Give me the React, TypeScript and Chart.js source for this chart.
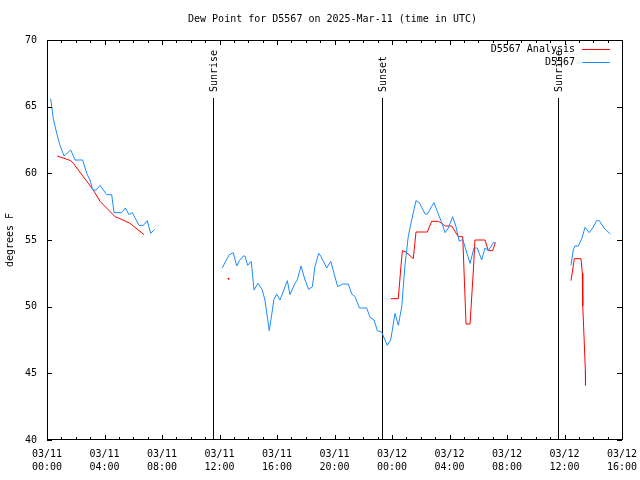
import { useEffect, useRef } from "react";
import { Chart, registerables } from "chart.js";

Chart.register(...registerables);

const chartTitle = "Dew Point for D5567 on 2025-Mar-11 (time in UTC)";
const yAxisLabel = "degrees F";
const xTickDates = ["03/11", "03/11", "03/11", "03/11", "03/11", "03/11", "03/12", "03/12", "03/12", "03/12", "03/12"];
const xTickTimes = ["00:00", "04:00", "08:00", "12:00", "16:00", "20:00", "00:00", "04:00", "08:00", "12:00", "16:00"];

const analysisLabel = "D5567 Analysis";
const obsLabel = "D5567";

const eventNames = ["Sunrise", "Sunset", "Sunrise"];
const eventHours = [11.55, 23.3, 35.55];

// hours since 03/11 00:00 UTC
const obsHours = [
  0.257, 0.327, 0.438, 0.675, 0.904, 1.183, 1.649, 1.948, 2.483, 2.762, 2.991, 3.179, 3.409, 3.687,
  4.153, 4.501, 4.661, 5.197, 5.447, 5.704, 5.934, 6.4, 6.699, 6.977, 7.214, 7.492,
  10,
  12.19, 12.45, 12.68, 12.96, 13.2, 13.38, 13.66, 13.77, 13.96, 14.21, 14.4, 14.68, 14.96, 15.16,
  15.46, 15.63, 15.79, 15.98, 16.21, 16.72, 16.9, 17.25, 17.41, 17.67, 17.95, 18.2, 18.46, 18.64,
  18.9, 19.04, 19.46, 19.74, 20.22, 20.57, 20.96, 21.2, 21.43, 21.73, 22.24, 22.47, 22.75, 22.98,
  23.28, 23.67, 23.91, 24.21, 24.44, 24.68, 24.9, 25.13, 25.37, 25.67, 25.9, 26.3, 26.45, 26.92,
  27.22, 27.46, 27.69, 27.92, 28.22, 28.45, 28.68, 28.92, 29.43, 29.7, 29.93, 30.24, 30.47, 30.7,
  31.05, 31.19,
  34,
  36.45, 36.61, 36.73, 36.96, 37.2, 37.43, 37.72, 37.96, 38.24, 38.42, 38.75, 39.19,
];
const obsValues = [
  65.6, 65.05, 64.1, 63.0, 62.1, 61.3, 61.75, 61.0, 61.0, 60.0, 59.5, 58.75, 58.75, 59.1,
  58.4, 58.4, 57.05, 57.05, 57.4, 56.9, 57.05, 56.1, 56.1, 56.45, 55.5, 55.8,
  null,
  52.9, 53.45, 53.9, 54.05, 53.05, 53.45, 53.8, 53.8, 53.1, 53.4, 51.25, 51.75, 51.3, 50.5,
  48.2, 49.4, 50.55, 50.95, 50.5, 51.95, 50.9, 51.75, 52.0, 53.05, 52.0, 51.3, 51.5, 53.0,
  54.0, 53.8, 52.9, 53.4, 51.5, 51.7, 51.7, 50.95, 50.75, 49.9, 49.9, 49.2, 49.0, 48.2,
  48.1, 47.1, 47.5, 49.5, 48.6, 50.0, 53.1, 55.25, 56.5, 57.95, 57.8, 56.95, 56.95, 57.8,
  56.95, 56.3, 55.55, 55.9, 56.75, 56.0, 54.9, 55.05, 53.25, 54.4, 54.4, 53.5, 54.4, 54.2,
  54.8, 54.8,
  null,
  53.1, 54.25, 54.55, 54.55, 55.1, 55.95, 55.55, 55.9, 56.45, 56.45, 55.9, 55.45,
];

const analysisHours = [
  0.717, 1.649, 1.83, 3.22, 3.687, 4.73, 5.078, 5.774, 6.748,
  9, 12.63, 18,
  23.91, 24.44, 24.6, 24.72, 24.97, 25.48, 25.67, 26.46, 26.76, 27.22, 27.46, 27.69, 28.15, 28.61,
  28.92, 29.15, 29.43, 29.66, 29.77, 30.47, 30.7, 31.0, 31.19,
  34,
  36.45, 36.57, 36.68, 37.15, 37.24, 37.27, 37.36, 37.45, 37.46,
];
const analysisValues = [
  61.3, 60.95, 60.75, 58.75, 57.9, 56.75, 56.6, 56.25, 55.4,
  null, 52.1, null,
  50.6, 50.6, 52.75, 54.2, 54.1, 53.6, 55.6, 55.6, 56.4, 56.4, 56.25, 56.05, 56.05, 55.25,
  55.25, 48.7, 48.7, 52.75, 55.0, 55.0, 54.2, 54.2, 54.8,
  null,
  51.95, 52.75, 53.6, 53.6, 52.5, 50.05, 47.7, 45.2, 44.1,
];

const FONT_FAMILY = "'DejaVu Sans Mono', 'Liberation Mono', monospace";
const FONT = `10px ${FONT_FAMILY}`;
const RED = "#ff0000";
const BLUE = "#1a8cff";

const isolatedRadius = (ctx: any) => {
  const d = ctx.dataset.data as any[];
  const i = ctx.dataIndex;
  if (!d[i] || d[i].y == null) return 0;
  const prev = d[i - 1];
  const next = d[i + 1];
  const lonely = (!prev || prev.y == null) && (!next || next.y == null);
  return lonely ? 1 : 0;
};

const decorPlugin = {
  id: "gnuplotDecor",
  beforeDatasetsDraw(chart: any) {
    const { ctx, chartArea: a, scales } = chart;
    const x = scales.x;
    ctx.save();
    ctx.strokeStyle = "#000";
    ctx.fillStyle = "#000";
    ctx.lineWidth = 1;
    ctx.font = FONT;
    eventHours.forEach((h, i) => {
      const px = Math.round(x.getPixelForValue(h)) + 0.5;
      ctx.beginPath();
      ctx.moveTo(px, a.top + 58);
      ctx.lineTo(px, a.bottom);
      ctx.stroke();
      ctx.save();
      ctx.translate(px + 1, a.top + 52);
      ctx.rotate(-Math.PI / 2);
      ctx.textAlign = "left";
      ctx.textBaseline = "middle";
      ctx.fillText(eventNames[i], 0, 0);
      ctx.restore();
    });
    ctx.restore();
  },
  afterDraw(chart: any) {
    const { ctx, chartArea: a, scales } = chart;
    const x = scales.x;
    const y = scales.y;
    ctx.save();
    ctx.strokeStyle = "#000";
    ctx.fillStyle = "#000";
    ctx.lineWidth = 1;
    // border
    ctx.strokeRect(a.left + 0.5, a.top + 0.5, a.right - a.left, a.bottom - a.top - 1);
    // x ticks (inward, mirrored)
    ctx.beginPath();
    for (let h = 0; h <= 40; h++) {
      const px = Math.round(x.getPixelForValue(h)) + 0.5;
      const len = h % 4 === 0 ? 5 : 3;
      ctx.moveTo(px, a.bottom);
      ctx.lineTo(px, a.bottom - len);
      ctx.moveTo(px, a.top);
      ctx.lineTo(px, a.top + len);
    }
    for (let v = 40; v <= 70; v += 5) {
      const py = Math.round(y.getPixelForValue(v)) + 0.5;
      ctx.moveTo(a.left, py);
      ctx.lineTo(a.left + 5, py);
      ctx.moveTo(a.right, py);
      ctx.lineTo(a.right - 5, py);
    }
    ctx.stroke();
    // title
    ctx.font = FONT;
    ctx.textAlign = "center";
    ctx.textBaseline = "middle";
    ctx.fillText(chartTitle, (a.left + a.right) / 2 - 2, 19);
    // y axis label
    ctx.save();
    ctx.translate(10, (a.top + a.bottom) / 2);
    ctx.rotate(-Math.PI / 2);
    ctx.fillText(yAxisLabel, 0, 0);
    ctx.restore();
    // legend
    const entries = [
      { label: analysisLabel, color: RED },
      { label: obsLabel, color: BLUE },
    ];
    entries.forEach((e, i) => {
      const ly = a.top + 9 + i * 13;
      ctx.fillStyle = "#000";
      ctx.textAlign = "right";
      ctx.fillText(e.label, a.right - 47, ly);
      ctx.strokeStyle = e.color;
      ctx.beginPath();
      ctx.moveTo(a.right - 40, Math.round(ly) + 0.5);
      ctx.lineTo(a.right - 12, Math.round(ly) + 0.5);
      ctx.stroke();
    });
    ctx.restore();
  },
};

export default function App() {
  const canvasRef = useRef<HTMLCanvasElement | null>(null);

  useEffect(() => {
    if (!canvasRef.current) return;
    const obsData = obsHours.map((h, i) => ({ x: h, y: obsValues[i] }));
    const anaData = analysisHours.map((h, i) => ({ x: h, y: analysisValues[i] }));
    const chart = new Chart(canvasRef.current, {
      type: "line",
      data: {
        datasets: [
          {
            label: obsLabel,
            data: obsData as any,
            borderColor: BLUE,
            backgroundColor: BLUE,
            borderWidth: 1,
            pointRadius: isolatedRadius,
            pointHoverRadius: 0,
            tension: 0,
            spanGaps: false,
          },
          {
            label: analysisLabel,
            data: anaData as any,
            borderColor: RED,
            backgroundColor: RED,
            borderWidth: 1,
            pointRadius: isolatedRadius,
            pointBorderWidth: 0,
            pointHoverRadius: 0,
            tension: 0,
            spanGaps: false,
          },
        ],
      },
      plugins: [decorPlugin],
      options: {
        animation: false,
        responsive: false,
        devicePixelRatio: 1,
        events: [],
        layout: { padding: { top: 40, right: 18, left: 0, bottom: 0 } },
        plugins: {
          legend: { display: false },
          title: { display: false },
          tooltip: { enabled: false },
        },
        scales: {
          x: {
            type: "linear",
            min: 0,
            max: 40,
            grid: { display: false, drawTicks: false },
            border: { display: false },
            afterFit: (s: any) => {
              s.height = 40;
              s.paddingLeft = 0;
              s.paddingRight = 0;
            },
            ticks: {
              stepSize: 4,
              autoSkip: false,
              maxRotation: 0,
              padding: 8,
              color: "#000",
              font: { family: FONT_FAMILY, size: 10, lineHeight: 1.3 },
              callback: (v: any) => {
                const i = Math.round(Number(v) / 4);
                return [xTickDates[i], xTickTimes[i]];
              },
            },
          },
          y: {
            type: "linear",
            min: 40,
            max: 70,
            grid: { display: false, drawTicks: false },
            border: { display: false },
            afterFit: (s: any) => {
              s.width = 47;
              s.paddingTop = 0;
              s.paddingBottom = 0;
            },
            ticks: {
              stepSize: 5,
              padding: 10,
              color: "#000",
              font: { family: FONT_FAMILY, size: 10 },
            },
          },
        },
      },
    });
    return () => chart.destroy();
  }, []);

  return (
    <div style={{ position: "fixed", left: 0, top: 0, width: 640, height: 480, background: "#fff" }}>
      <canvas ref={canvasRef} width={640} height={480} style={{ width: 640, height: 480 }} />
    </div>
  );
}
